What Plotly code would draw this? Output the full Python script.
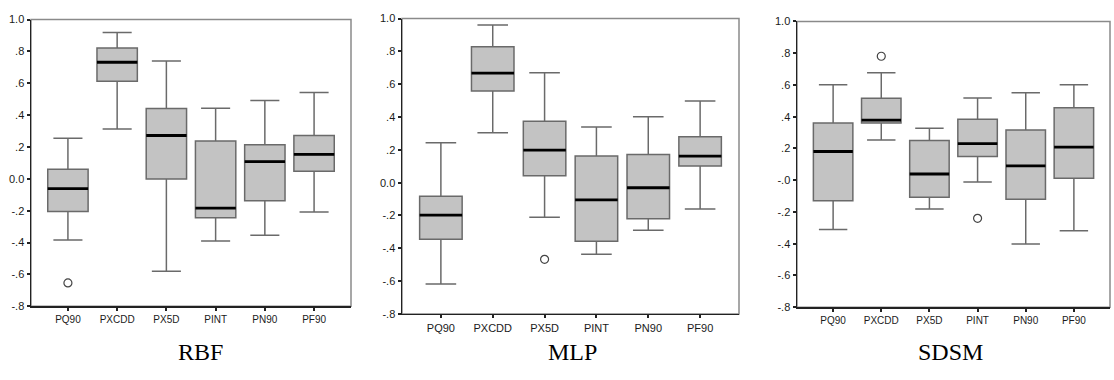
import plotly.graph_objects as go

categories = ["PQ90", "PXCDD", "PX5D", "PINT", "PN90", "PF90"]
panel_titles = ["RBF", "MLP", "SDSM"]

# RBF
rbf_low = [-0.384, 0.313, -0.581, -0.391, -0.354, -0.208]
rbf_q1 = [-0.206, 0.613, -0.001, -0.245, -0.137, 0.047]
rbf_med = [-0.062, 0.732, 0.272, -0.184, 0.108, 0.153]
rbf_q3 = [0.060, 0.822, 0.441, 0.238, 0.214, 0.272]
rbf_high = [0.254, 0.919, 0.739, 0.443, 0.491, 0.542]
rbf_out_cat = [0]
rbf_out_val = [-0.654]

# MLP
mlp_low = [-0.617, 0.304, -0.210, -0.436, -0.290, -0.161]
mlp_q1 = [-0.345, 0.559, 0.042, -0.357, -0.220, 0.101]
mlp_med = [-0.198, 0.668, 0.199, -0.105, -0.031, 0.162]
mlp_q3 = [-0.082, 0.829, 0.374, 0.162, 0.172, 0.280]
mlp_high = [0.243, 0.961, 0.670, 0.339, 0.402, 0.498]
mlp_out_cat = [2]
mlp_out_val = [-0.467]

# SDSM
sdsm_low = [-0.311, 0.254, -0.181, -0.012, -0.402, -0.319]
sdsm_q1 = [-0.130, 0.360, -0.107, 0.149, -0.120, 0.012]
sdsm_med = [0.181, 0.378, 0.039, 0.230, 0.090, 0.208]
sdsm_q3 = [0.360, 0.516, 0.250, 0.384, 0.317, 0.457]
sdsm_high = [0.602, 0.677, 0.327, 0.518, 0.551, 0.602]
sdsm_out_cat = [1, 3]
sdsm_out_val = [0.781, -0.240]

tick_vals = [1.0, 0.8, 0.6, 0.4, 0.2, 0.0, -0.2, -0.4, -0.6, -0.8]
tick_text_a = ["1.0", ".8", ".6", ".4", ".2", "0.0", "-.2", "-.4", "-.6", "-.8"]
tick_text_c = ["1.0", ".8", ".6", ".4", ".2", "-.0", "-.2", "-.4", "-.6", "-.8"]

panels = [
    (rbf_low, rbf_q1, rbf_med, rbf_q3, rbf_high, rbf_out_cat, rbf_out_val, tick_text_a),
    (mlp_low, mlp_q1, mlp_med, mlp_q3, mlp_high, mlp_out_cat, mlp_out_val, tick_text_a),
    (sdsm_low, sdsm_q1, sdsm_med, sdsm_q3, sdsm_high, sdsm_out_cat, sdsm_out_val, tick_text_c),
]

W, H = 1114, 380
# pixel boxes for each plot area: (left, right, top, bottom)
areas = [(31, 351, 14, 310), (402, 739, 13, 318), (797, 1110, 16, 311)]
title_x = [200, 572, 950]
xfont_sizes = [10, 11, 10]

BOXW = 0.82
fig = go.Figure()
layout = dict(
    width=W, height=H, margin=dict(l=0, r=0, t=0, b=0),
    paper_bgcolor="white", plot_bgcolor="white", showlegend=False,
    shapes=[], annotations=[],
)

for k, (low, q1, med, q3, high, oc, ov, ttext) in enumerate(panels):
    xa = "x" if k == 0 else f"x{k+1}"
    ya = "y" if k == 0 else f"y{k+1}"
    xs = list(range(len(categories)))
    fig.add_trace(go.Box(
        x=xs, q1=q1, median=med, q3=q3, lowerfence=low, upperfence=high,
        width=BOXW, whiskerwidth=0.72, boxpoints=False,
        fillcolor="#c3c3c3", line=dict(color="#6a6a6a", width=1.5),
        xaxis=xa, yaxis=ya, hoverinfo="skip",
    ))
    mx, my = [], []
    for i, m in enumerate(med):
        mx += [i - BOXW / 2, i + BOXW / 2, None]
        my += [m, m, None]
    fig.add_trace(go.Scatter(
        x=mx, y=my, mode="lines", line=dict(color="black", width=2.8),
        xaxis=xa, yaxis=ya, hoverinfo="skip",
    ))
    fig.add_trace(go.Scatter(
        x=oc, y=ov, mode="markers",
        marker=dict(symbol="circle-open", size=8, color="#444444", line=dict(width=1.2)),
        xaxis=xa, yaxis=ya, hoverinfo="skip",
    ))
    l, r, t, b = areas[k]
    xkey = "xaxis" if k == 0 else f"xaxis{k+1}"
    ykey = "yaxis" if k == 0 else f"yaxis{k+1}"
    layout[xkey] = dict(
        domain=[l / W, r / W], anchor=ya, range=[-0.75, 5.75],
        tickvals=xs, ticktext=categories, showgrid=False, zeroline=False,
        showline=True, linecolor="#222222", linewidth=1.5,
        ticks="outside", ticklen=3, tickwidth=2, tickcolor="#222222",
        tickfont=dict(family="Liberation Sans", size=xfont_sizes[k], color="#1a1a1a"),
    )
    layout[ykey] = dict(
        domain=[1 - b / H, 1 - t / H], anchor=xa, range=[-0.8, 1.0],
        tickvals=tick_vals, ticktext=ttext, showgrid=False, zeroline=False,
        showline=True, linecolor="#222222", linewidth=1.5,
        ticks="outside", ticklen=3, tickwidth=2, tickcolor="#222222",
        tickfont=dict(family="Liberation Sans", size=11, color="#1a1a1a"),
    )
    layout["shapes"].append(dict(
        type="rect", xref=f"{xa} domain", yref=f"{ya} domain",
        x0=0, x1=1, y0=0, y1=1, line=dict(color="#8a8a8a", width=1.5), layer="below",
    ))
    layout["annotations"].append(dict(
        text=panel_titles[k], xref="paper", yref="paper",
        x=title_x[k] / W, y=1 - 357 / H, xanchor="center", yanchor="middle",
        showarrow=False, font=dict(family="Liberation Serif", size=24, color="black"),
    ))

fig.update_layout(**layout)
fig.write_html(
    "out.html",
    config={"displayModeBar": False, "staticPlot": True},
    post_script="document.body.style.margin='0';document.body.style.overflow='hidden';",
)
